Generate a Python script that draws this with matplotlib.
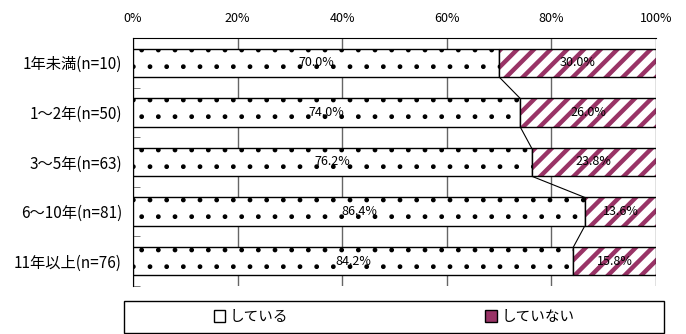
import numpy as np
import matplotlib.pyplot as plt
from matplotlib.patches import Patch, Rectangle

plt.rcParams['font.family'] = ['Noto Sans CJK JP', 'DejaVu Sans']

categories = ['1年未満(n=10)', '1～2年(n=50)', '3～5年(n=63)',
              '6～10年(n=81)', '11年以上(n=76)']
doing = [70.0, 74.0, 76.2, 86.4, 84.2]
not_doing = [30.0, 26.0, 23.8, 13.6, 15.8]
series_names = ['している', 'していない']
xticks = [0, 20, 40, 60, 80, 100]

plum = '#993366'

fig = plt.figure(figsize=(6.86, 3.34), dpi=100)
ax = fig.add_axes([133/686, 1-286/334, 523/686, 248/334])

y = np.arange(len(categories))
h = 0.57
doing = np.array(doing)
not_doing = np.array(not_doing)

# dotted part (thin hatch so dots stay small)
plt.rcParams['hatch.linewidth'] = 1.0
ax.barh(y, doing, height=h, color='white', edgecolor='black', lw=1,
        hatch='.', zorder=3)
# striped part
plt.rcParams['hatch.linewidth'] = 3.2
ax.barh(y, not_doing, left=doing, height=h, color='white', edgecolor=plum,
        lw=0, hatch='//', zorder=3)
ax.barh(y, not_doing, left=doing, height=h, color='none', edgecolor='black',
        lw=1, zorder=4)

# series lines between bars
for i in range(len(y)-1):
    ax.plot([doing[i], doing[i+1]], [y[i]+h/2, y[i+1]-h/2], color='black',
            lw=0.8, zorder=2)

for i in range(len(y)):
    ax.text(doing[i]/2, y[i], '%.1f%%' % doing[i], ha='center', va='center',
            fontsize=9, zorder=5)
    ax.text(doing[i]+not_doing[i]/2, y[i], '%.1f%%' % not_doing[i],
            ha='center', va='center', fontsize=9, zorder=5)

ax.set_xlim(0, 100)
ax.set_ylim(len(categories)-0.5, -0.5)
ax.set_xticks(xticks)
ax.set_xticklabels(['%d%%' % t for t in xticks], fontsize=9)
ax.xaxis.tick_top()
ax.tick_params(axis='x', length=0, pad=9)
ax.grid(axis='x', color='#666666', lw=1, zorder=1)

ax.set_yticks(y)
ax.set_yticklabels(categories, fontsize=11)
ax.set_yticks(np.arange(len(categories)+1)-0.5, minor=True)
ax.tick_params(axis='y', which='major', length=0, pad=8)
ax.tick_params(axis='y', which='minor', direction='in', length=5,
               color='#666666')

ax.spines['bottom'].set_visible(False)
ax.spines['right'].set_visible(False)
ax.spines['top'].set_color('black')
ax.spines['left'].set_color('black')

# legend frame
fig.patches.append(Rectangle((124/686, 1-333/334), 540/686, 32/334,
                             transform=fig.transFigure, fill=False,
                             edgecolor='black', lw=1))
handles = [Patch(facecolor='white', edgecolor='black', lw=1),
           Patch(facecolor=plum, edgecolor='black', lw=1)]
fig.legend(handles, series_names, loc='center',
           bbox_to_anchor=(394/686, 1-317/334), ncol=2, frameon=False,
           fontsize=10.5, handlelength=0.8, handleheight=0.8,
           handletextpad=0.3, columnspacing=13.5)

fig.savefig('out.png', dpi=100)
